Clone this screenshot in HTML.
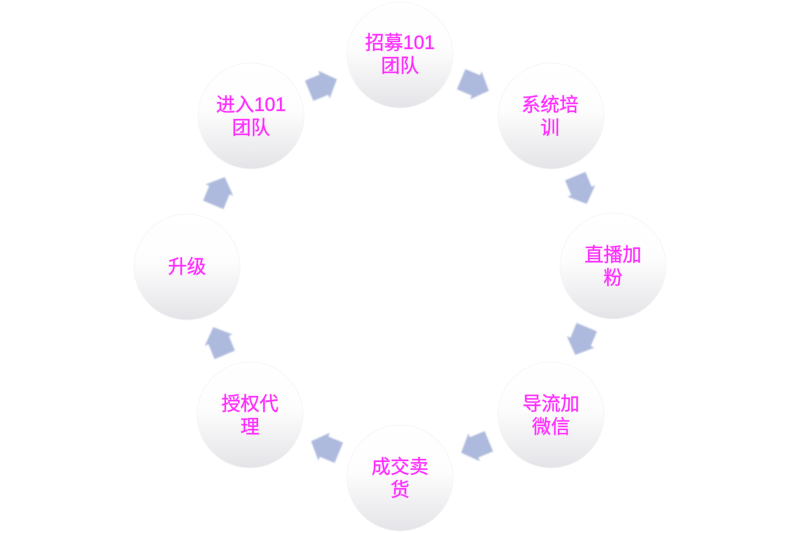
<!DOCTYPE html>
<html>
<head>
<meta charset="utf-8">
<style>
  html,body{margin:0;padding:0;background:#fff;}
  body{width:800px;height:533px;overflow:hidden;}
  svg{display:block;}
  text{font-family:"Liberation Sans","Noto Sans CJK SC","WenQuanYi Zen Hei",sans-serif;font-size:19px;fill:#ff1eff;text-anchor:middle;stroke:#ff55ff;stroke-width:0.8;stroke-opacity:0.55;}
</style>
</head>
<body>
<svg width="800" height="533" viewBox="0 0 800 533" xmlns="http://www.w3.org/2000/svg">
  <defs>
    <linearGradient id="g" x1="0" y1="0" x2="0" y2="1">
      <stop offset="0" stop-color="#ffffff"/>
      <stop offset="0.45" stop-color="#fdfdfd"/>
      <stop offset="1" stop-color="#e4e4e8"/>
    </linearGradient>
    <filter id="soft" x="-20%" y="-20%" width="140%" height="140%">
      <feGaussianBlur stdDeviation="0.7"/>
    </filter>
    <polygon id="arr" points="-15,-11 1,-11 1,-15 15,0 1,15 1,11 -15,11" fill="#adbadd"/>
  </defs>

  <!-- circles -->
  <g stroke="#f5f5f7" stroke-width="0.8" fill="url(#g)">
    <circle cx="400" cy="55" r="53"/>
    <circle cx="551" cy="116" r="53"/>
    <circle cx="613" cy="266" r="53"/>
    <circle cx="551" cy="415" r="53"/>
    <circle cx="400" cy="478" r="53"/>
    <circle cx="250" cy="415" r="53"/>
    <circle cx="187" cy="267" r="53"/>
    <circle cx="251" cy="116" r="53"/>
  </g>

  <!-- arrows (clockwise) -->
  <g filter="url(#soft)">
    <use href="#arr" transform="translate(475,85) rotate(22.5)"/>
    <use href="#arr" transform="translate(581,190) rotate(67.5)"/>
    <use href="#arr" transform="translate(581,341) rotate(112.5)"/>
    <use href="#arr" transform="translate(475,447) rotate(157.5)"/>
    <use href="#arr" transform="translate(325,447) rotate(202.5)"/>
    <use href="#arr" transform="translate(219,341) rotate(247.5)"/>
    <use href="#arr" transform="translate(219,191) rotate(292.5)"/>
    <use href="#arr" transform="translate(323,85) rotate(337.5)"/>
  </g>

  <!-- labels -->
  <text x="400" y="49">招募101</text>
  <text x="400" y="72">团队</text>

  <text x="550" y="111">系统培</text>
  <text x="550" y="134">训</text>

  <text x="613" y="261">直播加</text>
  <text x="613" y="284">粉</text>

  <text x="551" y="410">导流加</text>
  <text x="551" y="433">微信</text>

  <text x="400" y="473">成交卖</text>
  <text x="400" y="496">货</text>

  <text x="250" y="410">授权代</text>
  <text x="250" y="433">理</text>

  <text x="187" y="273">升级</text>

  <text x="251" y="111">进入101</text>
  <text x="251" y="134">团队</text>
</svg>
</body>
</html>
